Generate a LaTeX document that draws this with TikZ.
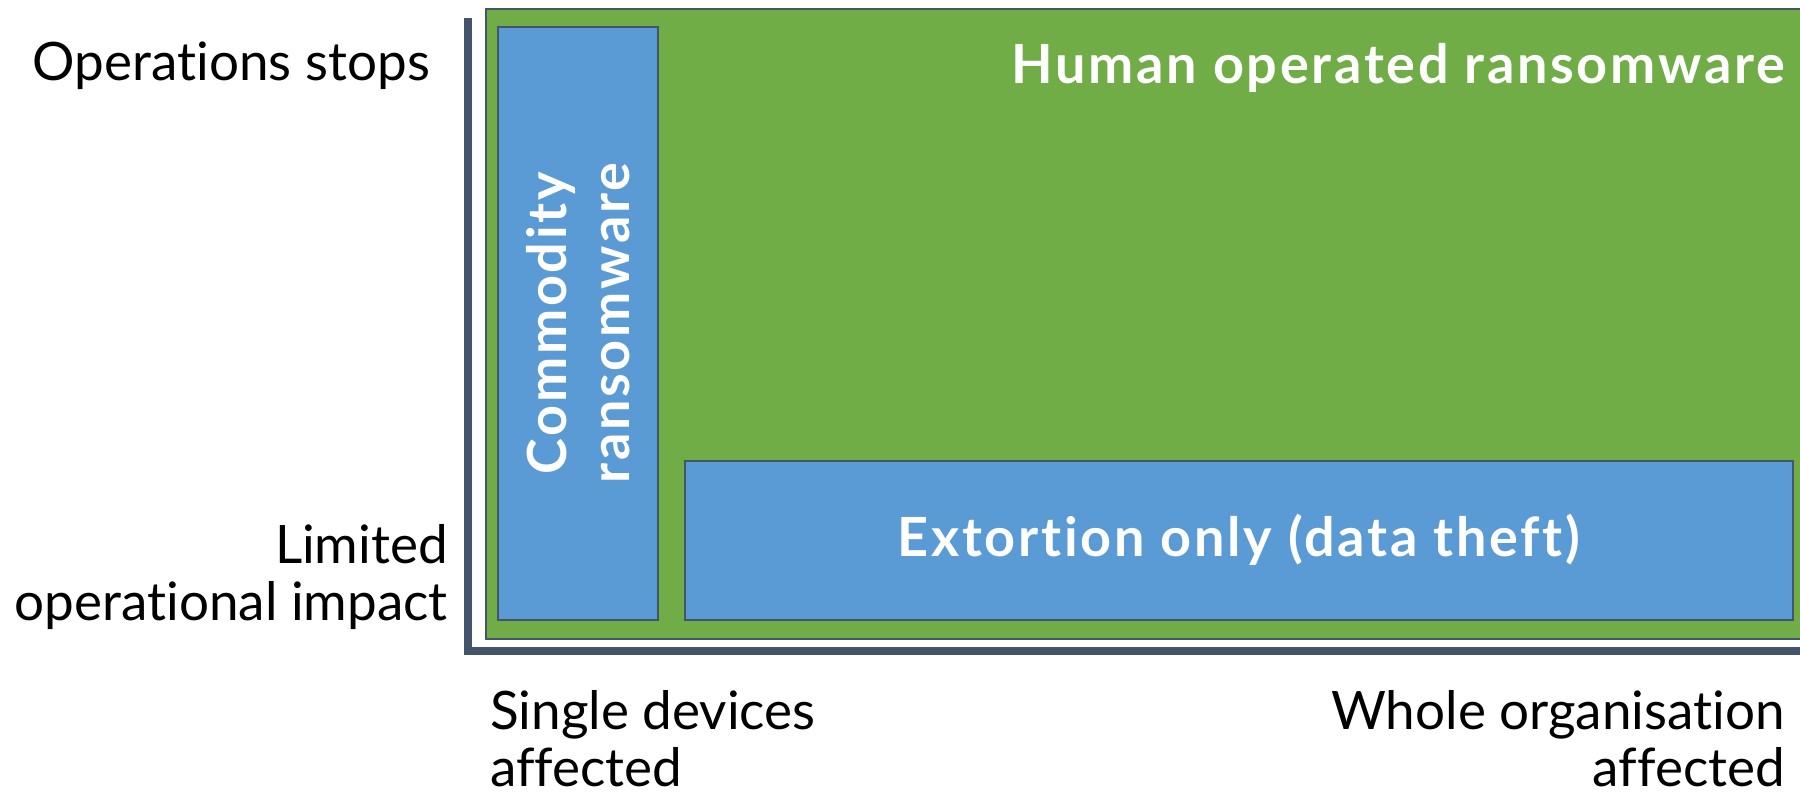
\documentclass[tikz,border=0pt]{standalone}
\usepackage{fontspec}
\setmainfont{Lato}[Ligatures=NoCommon]
\definecolor{orggreen}{HTML}{70AD47}
\definecolor{orgblue}{HTML}{5B9BD5}
\definecolor{axisgray}{HTML}{44546A}
\begin{document}
\begin{tikzpicture}[x=1pt,y=-1pt,
    zone/.style={draw=axisgray, line width=1.5pt, inner sep=0pt, anchor=north west},
    zonetext/.style={text=white, font=\fontsize{54}{63}\selectfont\bfseries\addfontfeatures{LetterSpace=5}, inner sep=0pt, align=center},
    axislabel/.style={font=\fontsize{53}{57}\selectfont, inner sep=0pt}]
        \useasboundingbox (0,0) rectangle (1800,796);
        % the zones
        \node[zone, fill=orggreen, minimum width=1320pt, minimum height=630pt] (human) at (485,8) {};
        \node[zone, fill=orgblue, minimum width=160pt, minimum height=593pt] (commodity) at (497,26) {};
        \node[zone, fill=orgblue, minimum width=1108pt, minimum height=159pt] (extortion) at (684,460) {};
        \node[zonetext, anchor=base east] (humantext) at (1785,83) {Human operated ransomware};
        \node[zonetext, rotate=90] (commoditytext) at (commodity.center) {Commodity\\ransomware};
        \node[zonetext] (extortiontext) at (extortion.center) {Extortion only (data theft)};
        % axes
        \coordinate (top) at (468,18);
        \coordinate (right) at (1800,651);
        \draw[axisgray, line width=7.5pt] (top) |- (right);
        % axis labels
        \node[axislabel, anchor=base east] (stops) at (430,80) {Operations stops};
        \node[axislabel, anchor=base east, align=right] (limited) at (448,620) {Limited\\operational impact};
        \node[axislabel, anchor=base west, align=left] (single) at (490,786) {Single devices\\affected};
        \node[axislabel, anchor=base east, align=right] (whole) at (1785,786) {Whole organisation\\affected};
\end{tikzpicture}
\end{document}
